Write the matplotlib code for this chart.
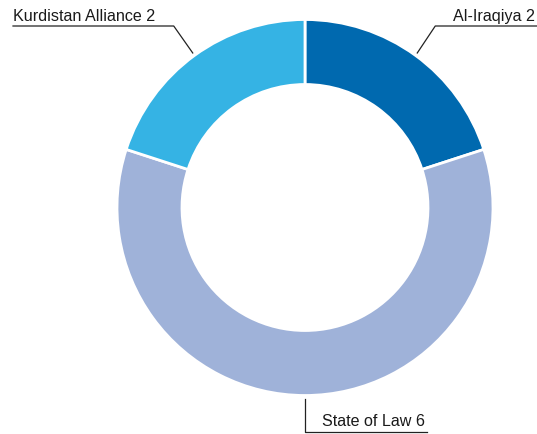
import numpy as np
import matplotlib
matplotlib.use("Agg")
import matplotlib.pyplot as plt

labels = ["Al-Iraqiya", "State of Law", "Kurdistan Alliance"]
seats = [2, 6, 2]
colors = ["#0069AF", "#9FB2D9", "#35B3E4"]

W, H = 537, 435
CX, CY, R, RING = 305, 226.5, 188, 65

fig = plt.figure(figsize=(W / 100, H / 100), dpi=100)
ax = fig.add_axes([0, 0, 1, 1])

wedges, _ = ax.pie(seats, colors=colors, startangle=90, counterclock=False,
                   center=(CX, CY), radius=R,
                   wedgeprops=dict(width=RING, edgecolor="white", linewidth=2))
ax.set_xlim(0, W)
ax.set_ylim(0, H)
ax.set_aspect("equal")
ax.axis("off")

font = dict(family="Liberation Sans", fontsize=11.6, color="#1a1a1a")
line = dict(color="#222222", lw=0.9)

# leader lines from wedge midpoints
for w, lab, val in zip(wedges, labels, seats):
    mid = np.deg2rad((w.theta1 + w.theta2) / 2)
    px, py = CX + (R + 3) * np.cos(mid), CY + (R + 3) * np.sin(mid)
    text = f"{lab} {val}"
    if py < CY - R + 20:  # bottom wedge
        ey = 2
        ax.plot([px, px, px + 122], [py, ey, ey], **line, clip_on=False)
        ax.text(px + 120, ey + 4, text, ha="right", va="bottom", **font)
    elif px > CX:
        ex, ey = px + 18, H - 27
        ax.plot([px, ex, W], [py, ey, ey], **line, clip_on=False)
        ax.text(W - 2, ey + 3, text, ha="right", va="bottom", **font)
    else:
        ex, ey = px - 19, H - 27
        ax.plot([px, ex, 13], [py, ey, ey], **line, clip_on=False)
        ax.text(13, ey + 3, text, ha="left", va="bottom", **font)

fig.savefig("out.png", dpi=100)
